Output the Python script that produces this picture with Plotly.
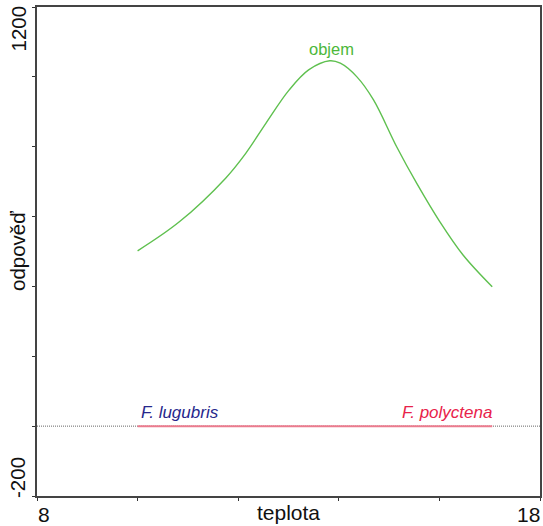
import plotly.graph_objects as go

# data
temp = [10.0, 10.83, 11.75, 12.15, 12.55, 13.01, 13.40, 13.82, 14.03, 14.36, 14.69, 15.15, 15.55, 16.01, 16.47, 17.05]
objem = [502, 585, 710, 781, 867, 962, 1020, 1046, 1039, 1000, 934, 800, 695, 585, 490, 399]
species_x = [10.0, 17.05]
species_y = [0, 0]
x_range = [8, 18]
y_range = [-200, 1200]
x_ticks = [8, 10, 12, 14, 16, 18]
y_ticks = [-200, 0, 200, 400, 600, 800, 1000, 1200]

FONT = "Liberation Sans, Arial, sans-serif"

fig = go.Figure()
fig.add_trace(go.Scatter(x=x_range, y=[0, 0], mode="lines",
                         line=dict(color="#666666", width=1, dash="1px,1px"),
                         hoverinfo="skip", showlegend=False))
fig.add_trace(go.Scatter(x=species_x, y=species_y, mode="lines",
                         line=dict(color="#ec7b8e", width=2),
                         showlegend=False))
fig.add_trace(go.Scatter(x=temp, y=objem, mode="lines",
                         line=dict(color="#5fc04f", width=1.4, shape="spline", smoothing=1.0),
                         showlegend=False))

ann = []
ann.append(dict(x=temp[objem.index(max(objem))], y=max(objem), text="objem", showarrow=False,
                xref="x", yref="y", yanchor="bottom", yshift=1, xshift=2,
                font=dict(family=FONT, size=16.5, color="#4cb83a")))
ann.append(dict(x=species_x[0], y=0, text="<i>F. lugubris</i>", showarrow=False,
                xanchor="left", yanchor="bottom", yshift=2, xshift=1,
                font=dict(family=FONT, size=17, color="#27278c")))
ann.append(dict(x=species_x[1], y=0, text="<i>F. polyctena</i>", showarrow=False,
                xanchor="right", yanchor="bottom", yshift=2, xshift=2,
                font=dict(family=FONT, size=17, color="#e8224a")))
# axis end labels
ann.append(dict(x=x_range[0], y=0, xref="x", yref="paper", text=str(x_range[0]), showarrow=False,
                xanchor="left", yanchor="top", yshift=-5, xshift=-1,
                font=dict(family=FONT, size=21, color="#111111")))
ann.append(dict(x=x_range[1], y=0, xref="x", yref="paper", text=str(x_range[1]), showarrow=False,
                xanchor="right", yanchor="top", yshift=-5, xshift=2,
                font=dict(family=FONT, size=21, color="#111111")))
ann.append(dict(x=0.5, y=0, xref="paper", yref="paper", text="teplota", showarrow=False,
                xanchor="center", yanchor="top", yshift=-3, xshift=0,
                font=dict(family=FONT, size=21, color="#111111")))
ann.append(dict(x=0, y=y_range[1], xref="paper", yref="y", text=str(y_range[1]), showarrow=False,
                textangle=-90, xanchor="right", yanchor="top", xshift=-6, yshift=3,
                font=dict(family=FONT, size=20.5, color="#111111")))
ann.append(dict(x=0, y=y_range[0], xref="paper", yref="y", text=str(y_range[0]), showarrow=False,
                textangle=-90, xanchor="right", yanchor="bottom", xshift=-6, yshift=-4,
                font=dict(family=FONT, size=20.5, color="#111111")))
ann.append(dict(x=0, y=0.5, xref="paper", yref="paper", text="odpověď", showarrow=False,
                textangle=-90, xanchor="right", yanchor="middle", xshift=-6,
                font=dict(family=FONT, size=20.5, color="#111111")))

fig.update_layout(
    width=543, height=526,
    margin=dict(l=37, r=1, t=7, b=30),
    plot_bgcolor="white", paper_bgcolor="white",
    annotations=ann,
    xaxis=dict(range=x_range, tickvals=x_ticks, showticklabels=False, ticks="outside",
               ticklen=3, tickcolor="#333333", showgrid=False, zeroline=False,
               showline=True, linecolor="#444444", linewidth=1.5, mirror=True),
    yaxis=dict(range=y_range, tickvals=y_ticks, showticklabels=False, ticks="outside",
               ticklen=3, tickcolor="#333333", showgrid=False, zeroline=False,
               showline=True, linecolor="#444444", linewidth=1.5, mirror=True),
)

fig.write_html("out.html")
